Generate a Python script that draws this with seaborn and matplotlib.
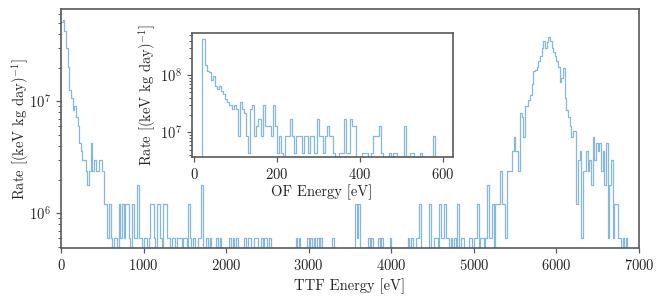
import numpy as np
import pandas as pd
import seaborn as sns
import matplotlib as mpl
import matplotlib.pyplot as plt

# TTF energy spectrum: counts per 20 eV bin
ttf_bin_width = 20.0
ttf_rate_per_count = 6.0e5
ttf_counts = [
    85, 88, 70, 50, 34, 21, 18, 14, 15, 12,
    10, 7, 6, 5, 5, 4, 3, 4, 7, 4,
    5, 4, 4, 5, 5, 4, 2, 2, 1, 2,
    1, 0, 1, 1, 0, 2, 1, 2, 1, 2,
    2, 1, 0, 2, 1, 1, 3, 1, 1, 0,
    1, 1, 0, 1, 2, 2, 1, 0, 2, 2,
    1, 0, 2, 2, 1, 1, 0, 1, 1, 0,
    1, 1, 1, 0, 1, 1, 0, 2, 1, 0,
    1, 0, 0, 1, 1, 3, 0, 0, 1, 0,
    1, 0, 0, 0, 1, 0, 1, 0, 0, 0,
    0, 0, 1, 0, 1, 0, 1, 0, 0, 0,
    0, 1, 0, 1, 1, 0, 0, 1, 1, 0,
    0, 1, 0, 1, 1, 0, 1, 0, 0, 0,
    0, 0, 0, 0, 0, 0, 0, 0, 0, 0,
    0, 0, 1, 0, 1, 0, 0, 0, 0, 1,
    0, 1, 0, 1, 0, 1, 0, 1, 0, 0,
    0, 0, 0, 0, 1, 0, 0, 0, 0, 0,
    0, 0, 0, 0, 0, 0, 0, 0, 2, 1,
    2, 0, 0, 0, 0, 0, 1, 0, 1, 0,
    0, 0, 1, 0, 1, 0, 0, 0, 0, 1,
    0, 0, 0, 0, 0, 0, 0, 0, 0, 0,
    1, 0, 1, 0, 0, 1, 1, 2, 0, 0,
    0, 0, 0, 2, 0, 0, 1, 1, 0, 2,
    1, 1, 2, 1, 1, 0, 1, 0, 1, 0,
    2, 0, 1, 1, 0, 0, 0, 1, 1, 0,
    1, 1, 2, 0, 1, 1, 0, 1, 3, 1,
    1, 2, 0, 2, 2, 2, 4, 2, 2, 1,
    4, 4, 4, 6, 8, 6, 6, 4, 13, 12,
    8, 15, 15, 17, 19, 24, 31, 32, 34, 38,
    42, 50, 57, 50, 56, 62, 58, 50, 46, 42,
    38, 34, 25, 27, 33, 18, 14, 12, 10, 8,
    9, 9, 2, 5, 6, 1, 4, 4, 6, 4,
    5, 3, 8, 5, 7, 6, 7, 4, 6, 3,
    7, 1, 3, 5, 1, 2, 2, 1, 1, 0,
    1, 0, 1, 0, 0, 0, 0, 0, 0, 0,
]

# OF energy spectrum (inset): counts per 5 eV bin
of_bin_width = 5.0
of_rate_per_count = 4.3e6
of_counts = [
    0, 0, 0, 0, 97, 35, 27, 26, 19, 22,
    15, 13, 15, 12, 11, 9, 8, 7, 6, 7,
    6, 2, 8, 6, 5, 2, 1, 6, 7, 2,
    3, 4, 2, 7, 3, 3, 3, 2, 7, 3,
    1, 2, 1, 0, 2, 2, 4, 2, 1, 2,
    2, 2, 1, 2, 2, 1, 2, 2, 1, 4,
    2, 2, 1, 2, 3, 2, 2, 1, 0, 0,
    1, 1, 4, 1, 1, 4, 3, 3, 0, 0,
    0, 1, 1, 1, 0, 1, 2, 2, 2, 3,
    1, 0, 0, 0, 1, 0, 1, 1, 0, 0,
    0, 3, 0, 0, 1, 1, 0, 0, 0, 1,
    0, 0, 0, 0, 0, 2, 0, 0, 0, 0,
]

ttf_nbins = len(ttf_counts)
of_nbins = len(of_counts)

ttf = pd.DataFrame({
    'energy': (np.arange(ttf_nbins) + 0.5) * ttf_bin_width,
    'rate': np.array(ttf_counts) * ttf_rate_per_count,
})
of = pd.DataFrame({
    'energy': (np.arange(of_nbins) + 0.5) * of_bin_width,
    'rate': np.array(of_counts) * of_rate_per_count,
})

sns.set_style('ticks')
mpl.rc('font', family='serif', size=10.5)
mpl.rcParams['font.serif'] = ['cmr10']
mpl.rcParams['mathtext.fontset'] = 'cm'
mpl.rcParams['axes.formatter.use_mathtext'] = True
mpl.rcParams['axes.unicode_minus'] = False

line_color = '#4592cc'
spine_color = '0.35'

fig = plt.figure(figsize=(6.64, 3.02), dpi=100)
ax = fig.add_axes([0.0919, 0.178, 0.8705, 0.7924])
axin = fig.add_axes([0.2887, 0.479, 0.393, 0.4116])

sns.histplot(data=ttf, x='energy', weights='rate', bins=ttf_nbins,
             binrange=(0, ttf_nbins * ttf_bin_width),
             element='step', fill=False, color=line_color, alpha=0.65,
             linewidth=0.9, ax=ax)
sns.histplot(data=of, x='energy', weights='rate', bins=of_nbins,
             binrange=(0, of_nbins * of_bin_width),
             element='step', fill=False, color=line_color, alpha=0.65,
             linewidth=0.9, ax=axin)

ax.set_yscale('log')
ax.set_xlim(0, 7000)
ax.set_ylim(4.87e5, 6.67e7)
ax.set_xticks(np.arange(0, 7001, 1000))
ax.set_xlabel('TTF Energy [eV]')
ax.set_ylabel(r'Rate [(keV kg day)$^{-1}$]', labelpad=-1)

axin.set_yscale('log')
axin.set_xlim(-6, 623)
axin.set_ylim(3.66e6, 5.4e8)
axin.set_xticks([0, 200, 400, 600])
axin.set_xlabel('OF Energy [eV]', labelpad=2)
axin.set_ylabel(r'Rate [(keV kg day)$^{-1}$]', labelpad=1)

for a in (ax, axin):
    for s in a.spines.values():
        s.set_color(spine_color)
        s.set_linewidth(1.2)
    a.tick_params(which='both', color=spine_color, direction='out')
    a.tick_params(which='major', length=3.5, width=0.9)
    a.tick_params(which='minor', length=2, width=0.7)

fig.savefig('out.png', dpi=100)
